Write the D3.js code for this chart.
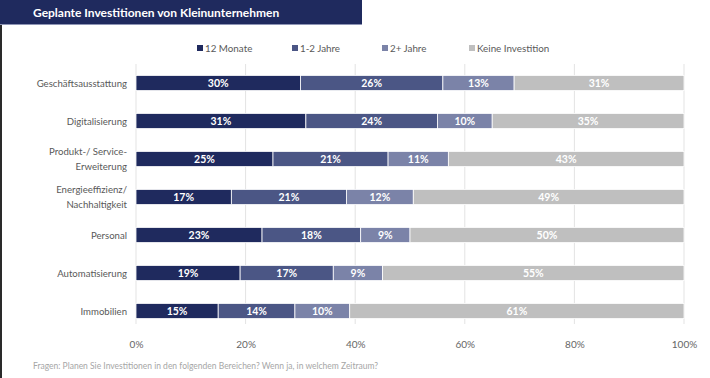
<!DOCTYPE html>
<html><head><meta charset="utf-8">
<script src="https://cdn.jsdelivr.net/npm/d3@7"></script>
<style>
html,body{margin:0;padding:0;background:#fff;}
svg{display:block;font-family:Lato,"Open Sans",sans-serif;}
</style></head>
<body>
<svg id="c" width="710" height="378"></svg>
<script>
const title = "Geplante Investitionen von Kleinunternehmen";
const footnote = "Fragen: Planen Sie Investitionen in den folgenden Bereichen? Wenn ja, in welchem Zeitraum?";
const categories = [
  ["Geschäftsausstattung"],
  ["Digitalisierung"],
  ["Produkt-/ Service-", "Erweiterung"],
  ["Energieeffizienz/", "Nachhaltigkeit"],
  ["Personal"],
  ["Automatisierung"],
  ["Immobilien"]
];
const seriesNames = ["12 Monate", "1-2 Jahre", "2+ Jahre", "Keine Investition"];
const s12Monate = [30, 31, 25, 17.4, 23, 19, 15];
const s1bis2Jahre = [26, 24, 21, 21, 18, 17, 14];
const s2plusJahre = [13, 10, 11, 12.2, 9, 9, 10];
const sKeine = [31, 35, 43, 49.4, 50, 55, 61];
const ticks = [0, 20, 40, 60, 80, 100];
const colors = ["#1f2a5e", "#4b5685", "#7b83a8", "#bfbfbf"];

const svg = d3.select("#c");
const W = 710, H = 378;

svg.append("rect").attr("x",0).attr("y",0).attr("width",2).attr("height",H).attr("fill","#2a2a2a");
svg.append("rect").attr("x",0).attr("y",0).attr("width",362).attr("height",24).attr("fill","#1f2a5e");
svg.append("rect").attr("x",0).attr("y",24).attr("width",362).attr("height",1).attr("fill","#8e95b5");
svg.append("text").attr("x",33).attr("y",16.5).attr("fill","#fff")
  .attr("font-size",12).attr("font-weight",700).text(title);

const x = d3.scaleLinear().domain([0,100]).range([136,684]);
const y = d3.scaleBand().domain(d3.range(categories.length)).range([64,330]).paddingInner(0.6).paddingOuter(0.3);

svg.append("g").selectAll("line").data(ticks).join("line")
  .attr("x1",d=>x(d)).attr("x2",d=>x(d)).attr("y1",64).attr("y2",324)
  .attr("stroke","#e3e3e3").attr("stroke-width",1);

const ax = svg.append("g").attr("transform","translate(0,324)")
  .call(d3.axisBottom(x).tickValues(ticks).tickFormat(d=>d+"%").tickSize(0).tickPadding(17));
ax.select(".domain").remove();
ax.selectAll("text").attr("fill","#666").attr("font-size",10).attr("font-family","Lato,'Open Sans',sans-serif");

const rows = categories.map((c,i)=>({i, vals:[s12Monate[i], s1bis2Jahre[i], s2plusJahre[i], sKeine[i]]}));
const stack = d3.stack().keys([0,1,2,3]).value((d,k)=>d.vals[k]);
const layers = stack(rows);

const bh = y.bandwidth();
const g = svg.append("g");
layers.forEach((layer,k)=>{
  const lg = g.append("g");
  lg.selectAll("rect").data(layer).join("rect")
    .attr("x",d=>x(d[0])).attr("width",d=>x(d[1])-x(d[0]))
    .attr("y",d=>y(d.data.i)).attr("height",bh)
    .attr("fill",colors[k]).attr("stroke","#fff").attr("stroke-width",0.8);
  lg.selectAll("text").data(layer).join("text")
    .attr("x",d=>(x(d[0])+x(d[1]))/2).attr("y",d=>y(d.data.i)+bh/2+3.8)
    .attr("text-anchor","middle").attr("fill","#fff").attr("font-size",10.5).attr("font-weight",700)
    .text(d=>Math.round(d[1]-d[0])+"%");
});

const cl = svg.append("g");
categories.forEach((lines,i)=>{
  const cy = y(i)+bh/2;
  const t = cl.append("text").attr("text-anchor","end").attr("fill","#595959").attr("font-size",9.6);
  lines.forEach((ln,j)=>{
    t.append("tspan").attr("x",127).attr("y",cy+3.5+(j-(lines.length-1)/2)*15).text(ln);
  });
});

const legX = [197, 292, 382, 469];
const lg = svg.append("g");
seriesNames.forEach((n,k)=>{
  lg.append("rect").attr("x",legX[k]).attr("y",45).attr("width",6).attr("height",6).attr("fill",colors[k]);
  lg.append("text").attr("x",legX[k]+8).attr("y",51.5).attr("fill","#595959").attr("font-size",9.8).text(n);
});

svg.append("text").attr("x",33).attr("y",369).attr("fill","#a6a6a6").attr("font-size",8.5).text(footnote);
</script>
</body></html>
